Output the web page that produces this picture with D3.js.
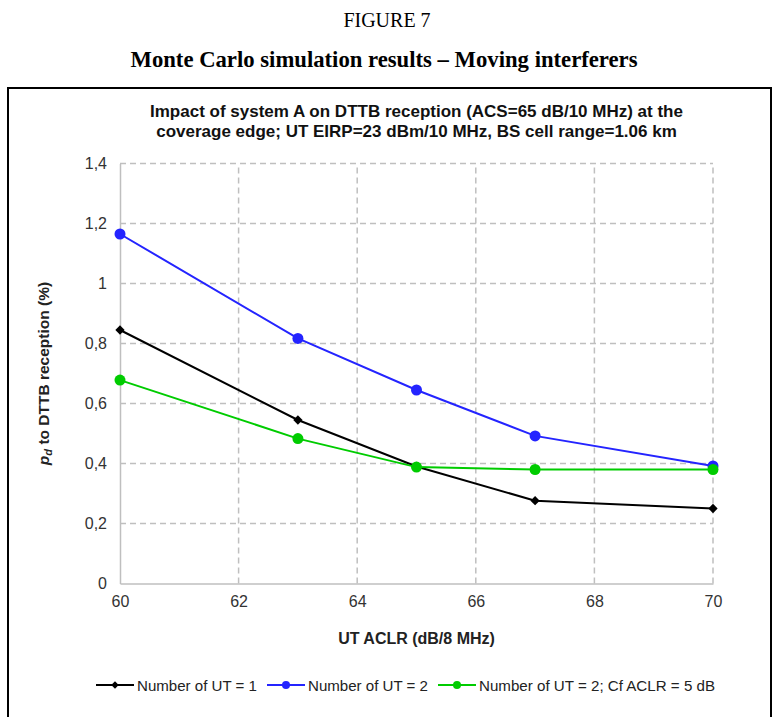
<!DOCTYPE html>
<html>
<head>
<meta charset="utf-8">
<script src="https://cdn.jsdelivr.net/npm/d3@7"></script>
<style>
  body { margin: 0; background: #fff; }
</style>
</head>
<body>
<svg id="chart" width="774" height="717"></svg>
<script>
// data
const aclr = [60, 63, 65, 67, 70];
const ut1 = [0.845, 0.545, 0.39, 0.276, 0.25];
const ut2 = [1.165, 0.817, 0.645, 0.492, 0.392];
const ut2cf = [0.678, 0.483, 0.388, 0.38, 0.38];
const seriesNames = ["Number of UT = 1", "Number of UT = 2", "Number of UT = 2; Cf ACLR = 5 dB"];
const seriesColors = ["#000000", "#2424ff", "#00cc00"];
const xTicks = [60, 62, 64, 66, 68, 70];
const yTicks = [0, 0.2, 0.4, 0.6, 0.8, 1, 1.2, 1.4];

const svg = d3.select("#chart"),
      margin = {top: 163.5, left: 120, right: 61, bottom: 133.5},
      width = +svg.attr("width"),
      height = +svg.attr("height");

const x = d3.scaleLinear().domain([60, 70]).range([margin.left, width - margin.right]);
const y = d3.scaleLinear().domain([0, 1.4]).range([height - margin.bottom, margin.top]);

const sans = "Liberation Sans, Arial, sans-serif";

// page headings
svg.append("text")
    .attr("x", width / 2).attr("y", 27)
    .attr("text-anchor", "middle")
    .style("font-family", "Liberation Serif, Times New Roman, serif")
    .style("font-size", "20px")
    .text("FIGURE 7");

svg.append("text")
    .attr("x", width / 2 - 3).attr("y", 67)
    .attr("text-anchor", "middle")
    .style("font-family", "Liberation Serif, Times New Roman, serif")
    .style("font-size", "22.7px")
    .style("font-weight", "bold")
    .text("Monte Carlo simulation results \u2013 Moving interferers");

// frame around the chart
svg.append("rect")
    .attr("x", 8).attr("y", 88)
    .attr("width", 763).attr("height", 640)
    .attr("fill", "none")
    .attr("stroke", "#000")
    .attr("stroke-width", 2);

// chart title
const titleLines = [
    "Impact of system A on DTTB reception (ACS=65 dB/10 MHz) at the",
    "coverage edge; UT EIRP=23 dBm/10 MHz, BS cell range=1.06 km"
];
svg.append("g").selectAll("text")
    .data(titleLines)
    .join("text")
    .attr("x", (x(60) + x(70)) / 2)
    .attr("y", (d, i) => 117 + i * 20)
    .attr("text-anchor", "middle")
    .style("font-family", sans)
    .style("font-size", "17px")
    .style("font-weight", "bold")
    .attr("fill", "#111")
    .text(d => d);

// grid
const grid = svg.append("g")
    .attr("stroke", "#bfbfbf")
    .attr("stroke-width", 1.5)
    .attr("stroke-dasharray", "6,4");

grid.selectAll("line.h")
    .data(yTicks.filter(d => d > 0))
    .join("line")
    .attr("class", "h")
    .attr("x1", x(60)).attr("x2", x(70))
    .attr("y1", d => y(d)).attr("y2", d => y(d));

grid.selectAll("line.v")
    .data(xTicks.filter(d => d > 60))
    .join("line")
    .attr("class", "v")
    .attr("x1", d => x(d)).attr("x2", d => x(d))
    .attr("y1", y(0)).attr("y2", y(1.4));

// axes
const xAxis = d3.axisBottom(x)
    .tickValues(xTicks)
    .tickSize(0)
    .tickPadding(12)
    .tickFormat(d3.format("d"));

const yAxis = d3.axisLeft(y)
    .tickValues(yTicks)
    .tickSize(0)
    .tickPadding(13)
    .tickFormat(d => d3.format("~g")(d).replace(".", ","));

const gx = svg.append("g")
    .attr("transform", `translate(0,${y(0)})`)
    .call(xAxis);

const gy = svg.append("g")
    .attr("transform", `translate(${x(60)},0)`)
    .call(yAxis);

[gx, gy].forEach(g => {
    g.attr("font-size", null).attr("font-family", null);
    g.select(".domain").attr("stroke", "#bfbfbf").attr("stroke-width", 1.5);
    g.selectAll("text")
        .style("font-family", sans)
        .style("font-size", "16px")
        .attr("fill", "#333");
});

// axis titles
svg.append("text")
    .attr("x", (x(60) + x(70)) / 2)
    .attr("y", 644)
    .attr("text-anchor", "middle")
    .style("font-family", sans)
    .style("font-size", "16px")
    .style("font-weight", "bold")
    .attr("fill", "#222")
    .text("UT ACLR (dB/8 MHz)");

const yLabel = svg.append("text")
    .attr("transform", `translate(49,${(y(0) + y(1.4)) / 2}) rotate(-90)`)
    .attr("text-anchor", "middle")
    .style("font-family", sans)
    .style("font-size", "15.5px")
    .style("font-weight", "bold")
    .attr("fill", "#222");
yLabel.append("tspan").style("font-style", "italic").text("p");
yLabel.append("tspan").style("font-style", "italic").style("font-size", "11px").attr("dy", 3).text("d");
yLabel.append("tspan").attr("dy", -3).text(" to DTTB reception (%)");

// series
const seriesData = [ut1, ut2, ut2cf];
const line = d3.line()
    .x(d => x(d[0]))
    .y(d => y(d[1]));

const diamond = d3.symbol().type(d3.symbolDiamond2).size(55);

seriesData.forEach((vals, i) => {
    const pts = aclr.map((a, j) => [a, vals[j]]);
    svg.append("path")
        .datum(pts)
        .attr("d", line)
        .attr("fill", "none")
        .attr("stroke", seriesColors[i])
        .attr("stroke-width", 2);

    if (i === 0) {
        svg.append("g").selectAll("path")
            .data(pts)
            .join("path")
            .attr("d", diamond)
            .attr("transform", d => `translate(${x(d[0])},${y(d[1])})`)
            .attr("fill", seriesColors[i]);
    } else {
        svg.append("g").selectAll("circle")
            .data(pts)
            .join("circle")
            .attr("cx", d => x(d[0]))
            .attr("cy", d => y(d[1]))
            .attr("r", 5.5)
            .attr("fill", seriesColors[i]);
    }
});

// legend
const legendX = [96, 267, 438];
const legendW = [120, 120, 236];
const legendY = 685;
seriesNames.forEach((name, i) => {
    const g = svg.append("g").attr("transform", `translate(${legendX[i]},${legendY})`);
    g.append("line")
        .attr("x1", 0).attr("x2", 38)
        .attr("y1", 0).attr("y2", 0)
        .attr("stroke", seriesColors[i])
        .attr("stroke-width", 2);
    if (i === 0) {
        g.append("path")
            .attr("d", d3.symbol().type(d3.symbolDiamond2).size(35))
            .attr("transform", "translate(19,0)")
            .attr("fill", seriesColors[i]);
    } else {
        g.append("circle")
            .attr("cx", 19).attr("cy", 0).attr("r", 4)
            .attr("fill", seriesColors[i]);
    }
    g.append("text")
        .attr("x", 41).attr("y", 5.5)
        .attr("textLength", legendW[i])
        .attr("lengthAdjust", "spacingAndGlyphs")
        .style("font-family", sans)
        .style("font-size", "15.5px")
        .attr("fill", "#222")
        .text(name);
});
</script>
</body>
</html>
